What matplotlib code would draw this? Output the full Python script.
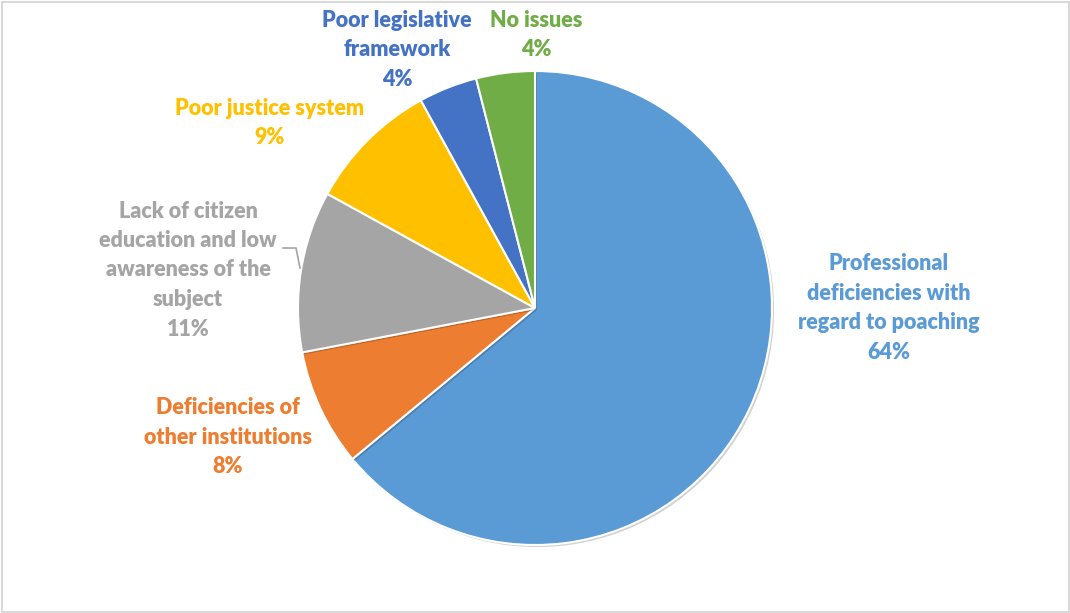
import matplotlib
matplotlib.use("Agg")
import matplotlib.pyplot as plt
import matplotlib.patheffects as pe
from matplotlib.patches import Rectangle

# Survey responses: main issues in tackling poaching
labels = [
    "Professional\ndeficiencies with\nregard to poaching",
    "Deficiencies of\nother institutions",
    "Lack of citizen\neducation and low\nawareness of the\nsubject",
    "Poor justice system",
    "Poor legislative\nframework",
    "No issues",
]
shares = [64, 8, 11, 9, 4, 4]
colors = ["#5B9BD5", "#ED7D31", "#A5A5A5", "#FFC000", "#4472C4", "#70AD47"]

# Label anchor points (pixel space, origin top-left) for each slice
label_pos = [(889, 308), (228, 437), (188, 270), (270, 123), (397, 50), (536, 35)]

W, H = 1070, 613
fig = plt.figure(figsize=(W / 100, H / 100), dpi=100)
ax = fig.add_axes([0, 0, 1, 1])

cx, cy, r = 535, H - 308, 237
wedges, _ = ax.pie(
    shares,
    colors=colors,
    startangle=90,
    counterclock=False,
    center=(cx, cy),
    radius=r,
    wedgeprops=dict(edgecolor="white", linewidth=1.5),
    frame=True,
)
ax.set_xlim(0, W)
ax.set_ylim(0, H)
ax.set_aspect("equal")
ax.axis("off")
for w in wedges:
    w.set_path_effects([pe.SimplePatchShadow(offset=(1.5, -1.5), alpha=0.18, shadow_rgbFace="black"), pe.Normal()])

for lab, val, col, (px, py) in zip(labels, shares, colors, label_pos):
    ax.text(px, H - py, f"{lab}\n{val}%", color=col, ha="center", va="center",
            fontsize=15.5, fontweight="heavy", family=["Lato", "DejaVu Sans"],
            linespacing=1.5)

# Leader line for the grey slice label
ax.plot([283, 296, 300], [H - 248, H - 248, H - 268], color="#A5A5A5", lw=1.2)

# Chart area border
fig.patches.append(Rectangle((1.5, 1.5), W - 3, H - 3, transform=None,
                             fill=False, edgecolor="#D9D9D9", linewidth=1.5))

fig.savefig("out.png", dpi=100, facecolor="white")
